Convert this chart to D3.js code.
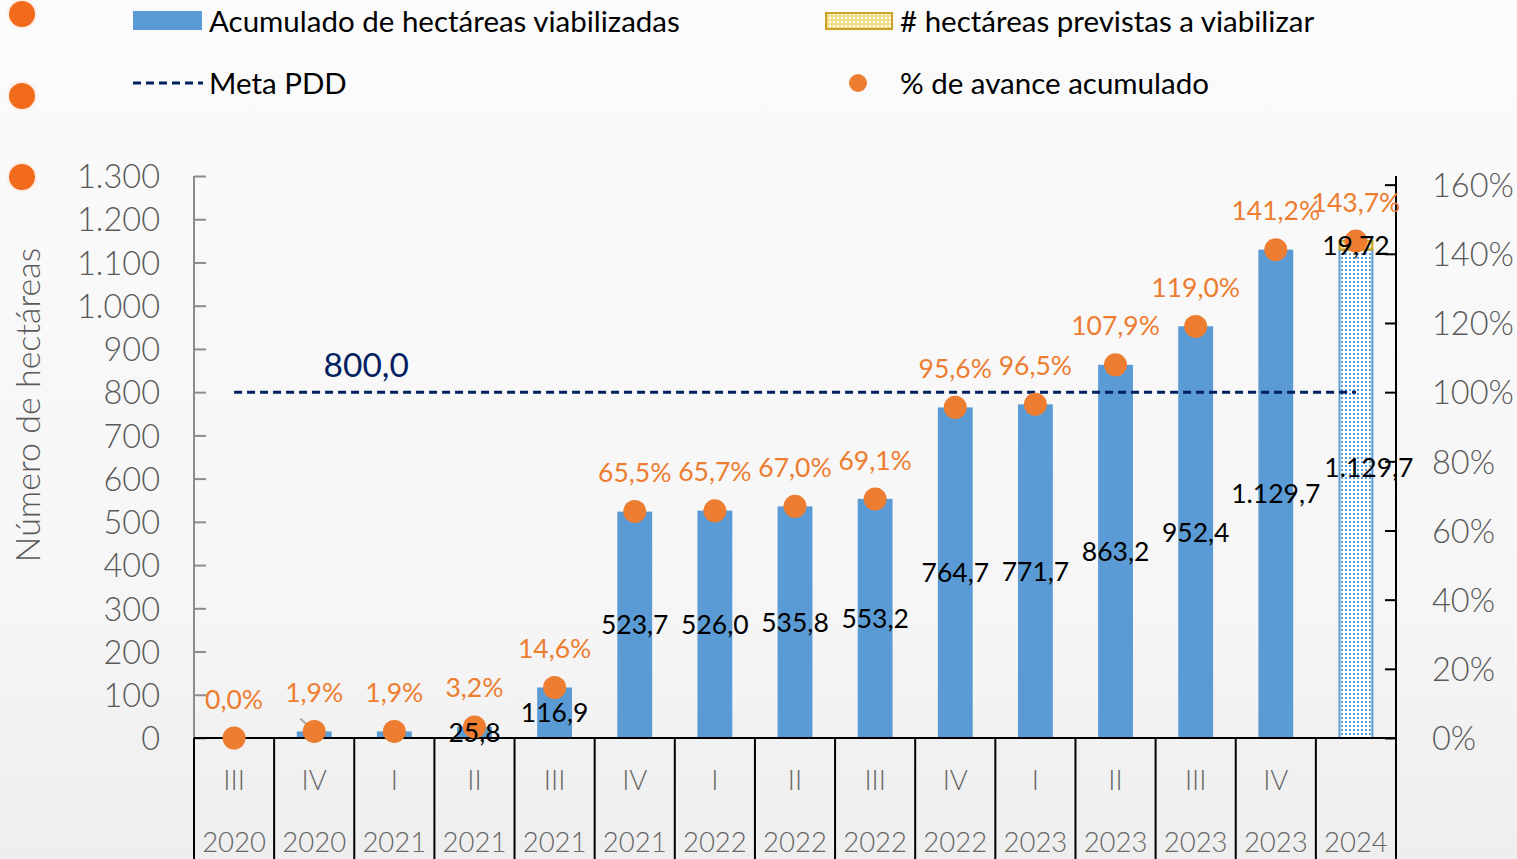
<!DOCTYPE html>
<html>
<head>
<meta charset="utf-8">
<script src="https://cdn.jsdelivr.net/npm/d3@7"></script>
<style>
  html, body { margin: 0; padding: 0; background: #f8f8f8; }
  svg { display: block; }
  text { font-family: Lato, "Open Sans", sans-serif; }
</style>
</head>
<body>
<svg id="chart" width="1517" height="859"></svg>
<script>
// ---- data ----
const quarters = ["III","IV","I","II","III","IV","I","II","III","IV","I","II","III","IV",""];
const years = ["2020","2020","2021","2021","2021","2021","2022","2022","2022","2022","2023","2023","2023","2023","2024"];
const accumulated = [0, 15.2, 15.2, 25.8, 116.9, 523.7, 526.0, 535.8, 553.2, 764.7, 771.7, 863.2, 952.4, 1129.7, null];
const projectedBase = [null, null, null, null, null, null, null, null, null, null, null, null, null, null, 1129.7];
const projectedExtra = [null, null, null, null, null, null, null, null, null, null, null, null, null, null, 19.72];
const percent = [0.0, 1.9, 1.9, 3.2, 14.6, 65.5, 65.7, 67.0, 69.1, 95.6, 96.5, 107.9, 119.0, 141.2, 143.7];
const meta = 800;
const leftTicks = [0,100,200,300,400,500,600,700,800,900,1000,1100,1200,1300];
const rightTicks = [0,20,40,60,80,100,120,140,160];
const legendLabels = ["Acumulado de hectáreas viabilizadas", "# hectáreas previstas a viabilizar", "Meta PDD", "% de avance acumulado"];
const yAxisTitle = "Número de hectáreas";

// ---- setup ----
const loc = d3.formatLocale({decimal: ",", thousands: ".", grouping: [3], currency: ["", ""]});
const fmt1 = loc.format(",.1f");
const fmtInt = loc.format(",d");
const fmt2 = loc.format(",.2f");

const BLUE = "#5b9bd5", ORANGE = "#ed7d31", NAVY = "#002060", GOLD = "#c9a227";

const svg = d3.select("#chart");
const W = 1517, H = 859;
const plotL = 194, plotR = 1396, plotT = 176, plotB = 738;

const defs = svg.append("defs");
const bg = defs.append("linearGradient").attr("id","bg").attr("x1",0).attr("x2",0).attr("y1",0).attr("y2",1);
bg.append("stop").attr("offset","0%").attr("stop-color","#fbfbfb");
bg.append("stop").attr("offset","70%").attr("stop-color","#f6f6f6");
bg.append("stop").attr("offset","100%").attr("stop-color","#eeeeee");
svg.append("rect").attr("width",W).attr("height",H).attr("fill","url(#bg)");

const pBlue = defs.append("pattern").attr("id","dotsBlue").attr("patternUnits","userSpaceOnUse").attr("width",4).attr("height",4);
pBlue.append("rect").attr("width",4).attr("height",4).attr("fill","#ffffff");
pBlue.append("rect").attr("x",1).attr("y",1).attr("width",2).attr("height",2).attr("fill",BLUE);
const pGold = defs.append("pattern").attr("id","dotsGold").attr("patternUnits","userSpaceOnUse").attr("width",4).attr("height",4);
pGold.append("rect").attr("width",4).attr("height",4).attr("fill","#f3dc8a");
pGold.append("rect").attr("x",1).attr("y",1).attr("width",2).attr("height",2).attr("fill","#ffffff");

// decorative circles at left edge
[14, 96, 177].forEach(cy => {
  svg.append("circle").attr("cx",22).attr("cy",cy).attr("r",15).attr("fill","#fde6d6").attr("opacity",0.6);
  svg.append("circle").attr("cx",22).attr("cy",cy).attr("r",13).attr("fill","#f26b1d");
});

const idx = d3.range(quarters.length);
const xCat = d3.scaleBand().domain(idx).range([plotL, plotR]).padding(0);
const xBar = d3.scaleBand().domain(idx).range([plotL, plotR]).paddingInner(0.565).paddingOuter(0.2825);
const yL = d3.scaleLinear().domain([0, 1300]).range([plotB, plotT]);
const yR = d3.scaleLinear().domain([0, 1300 / meta * 100]).range([plotB, plotT]);
const cx = i => xCat(i) + xCat.bandwidth() / 2;

// ---- left axis ----
const gL = svg.append("g").attr("transform", `translate(${plotL},0)`)
  .call(d3.axisRight(yL).tickValues(leftTicks).tickSize(12).tickFormat(d => fmtInt(d)));
gL.select(".domain").attr("stroke","#8c8c8c").attr("stroke-width",2).attr("d", `M0,${plotT}V${plotB}`);
gL.selectAll(".tick line").attr("stroke","#8c8c8c").attr("stroke-width",2);
gL.selectAll(".tick text").attr("x",-34).attr("text-anchor","end").attr("fill","#595959")
  .style("font-size","32.5px").style("font-weight",300).attr("dy","0.36em");

// ---- right axis ----
const gR = svg.append("g").attr("transform", `translate(${plotR},0)`)
  .call(d3.axisLeft(yR).tickValues(rightTicks).tickSize(11).tickFormat(d => d + "%"));
gR.select(".domain").attr("stroke","#000").attr("stroke-width",2).attr("d", `M0,${plotT}V${plotB}`);
gR.selectAll(".tick line").attr("stroke","#000").attr("stroke-width",2);
gR.selectAll(".tick text").attr("x",36).attr("text-anchor","start").attr("fill","#595959")
  .style("font-size","32.5px").style("font-weight",300).attr("dy","0.36em");

// y title
svg.append("text").attr("transform", `translate(40,405) rotate(-90)`)
  .attr("text-anchor","middle").attr("fill","#595959").style("font-size","34px").style("font-weight",300)
  .text(yAxisTitle);

// ---- bars ----
svg.append("g").selectAll("rect").data(idx.filter(i => accumulated[i] !== null)).join("rect")
  .attr("x", i => xBar(i)).attr("width", xBar.bandwidth())
  .attr("y", i => yL(accumulated[i])).attr("height", i => yL(0) - yL(accumulated[i]))
  .attr("fill", BLUE);

// projected bar (2024)
const projIdx = idx.filter(i => projectedBase[i] !== null);
svg.append("g").selectAll("rect").data(projIdx).join("rect")
  .attr("x", i => xBar(i) + 1).attr("width", xBar.bandwidth() - 2)
  .attr("y", i => yL(projectedBase[i])).attr("height", i => yL(0) - yL(projectedBase[i]))
  .attr("fill", "url(#dotsBlue)").attr("stroke", BLUE).attr("stroke-width", 2);
svg.append("g").selectAll("rect").data(projIdx).join("rect")
  .attr("x", i => xBar(i) + 1).attr("width", xBar.bandwidth() - 2)
  .attr("y", i => yL(projectedBase[i] + projectedExtra[i])).attr("height", i => yL(projectedBase[i]) - yL(projectedBase[i] + projectedExtra[i]))
  .attr("fill", "url(#dotsGold)").attr("stroke", GOLD).attr("stroke-width", 2);

// ---- x axis (table style) ----
const gx = svg.append("g");
gx.append("line").attr("x1", plotL).attr("x2", plotR).attr("y1", plotB).attr("y2", plotB).attr("stroke","#000").attr("stroke-width",2);
gx.selectAll("line.sep").data(d3.range(quarters.length + 1)).join("line").attr("class","sep")
  .attr("x1", i => i < quarters.length ? xCat(i) : plotR).attr("x2", i => i < quarters.length ? xCat(i) : plotR)
  .attr("y1", plotB).attr("y2", H).attr("stroke","#000").attr("stroke-width",2);
gx.selectAll("text.q").data(idx).join("text").attr("class","q")
  .attr("x", cx).attr("y", 790).attr("text-anchor","middle").attr("fill","#666")
  .style("font-size","27.5px").style("font-weight",300).text(i => quarters[i]);
gx.selectAll("text.yr").data(idx).join("text").attr("class","yr")
  .attr("x", cx).attr("y", 852).attr("text-anchor","middle").attr("fill","#666")
  .style("font-size","27.5px").style("font-weight",300).text(i => years[i]);

// ---- meta line ----
svg.append("line").attr("x1", cx(0)).attr("x2", cx(quarters.length - 1))
  .attr("y1", yL(meta)).attr("y2", yL(meta))
  .attr("stroke", NAVY).attr("stroke-width", 3).attr("stroke-dasharray", "8,5");
svg.append("text").attr("x", cx(1) + 52).attr("y", yL(meta) - 15).attr("text-anchor","middle")
  .attr("fill", NAVY).style("font-size","33.5px").text(fmt1(meta));

// leader line for IV 2020
svg.append("line").attr("x1", cx(1) - 14).attr("y1", yR(percent[1]) - 13).attr("x2", cx(1)).attr("y2", yR(percent[1]))
  .attr("stroke", "#a6a6a6").attr("stroke-width", 2);

// ---- percent points ----
svg.append("g").selectAll("circle").data(idx).join("circle")
  .attr("cx", cx).attr("cy", i => yR(percent[i])).attr("r", 11.5).attr("fill", ORANGE);
svg.append("g").selectAll("text").data(idx).join("text")
  .attr("x", cx).attr("y", i => yR(percent[i]) - 39).attr("dy","0.36em")
  .attr("text-anchor","middle").attr("fill", ORANGE).style("font-size","26.5px")
  .text(i => fmt1(percent[i]) + "%");

// ---- bar value labels (drawn above the points) ----
svg.append("g").selectAll("text").data(idx.filter(i => accumulated[i] !== null && accumulated[i] > 20)).join("text")
  .attr("x", cx).attr("y", i => (yL(0) + yL(accumulated[i])) / 2).attr("dy","0.36em")
  .attr("text-anchor","middle").attr("fill","#000").style("font-size","26.5px")
  .text(i => fmt1(accumulated[i]));
svg.append("g").selectAll("text").data(projIdx).join("text")
  .attr("x", i => cx(i) + 13).attr("y", i => (yL(0) + yL(projectedBase[i])) / 2 - 26).attr("dy","0.36em")
  .attr("text-anchor","middle").attr("fill","#000").style("font-size","26.5px")
  .text(i => fmt1(projectedBase[i]));
svg.append("g").selectAll("text").data(projIdx).join("text")
  .attr("x", cx).attr("y", i => yL(projectedBase[i] + projectedExtra[i] / 2)).attr("dy","0.36em")
  .attr("text-anchor","middle").attr("fill","#000").style("font-size","26.5px")
  .text(i => fmt2(projectedExtra[i]));

// ---- legend ----
const lg = svg.append("g");
const legFont = "29.5px";
lg.append("rect").attr("x",133).attr("y",11).attr("width",69).attr("height",19).attr("fill",BLUE);
lg.append("text").attr("x",209).attr("y",21).attr("dy","0.36em").attr("fill","#000").style("font-size",legFont).text(legendLabels[0]);
lg.append("rect").attr("x",826).attr("y",13).attr("width",66).attr("height",16).attr("fill","url(#dotsGold)").attr("stroke",GOLD).attr("stroke-width",2);
lg.append("text").attr("x",900).attr("y",21).attr("dy","0.36em").attr("fill","#000").style("font-size",legFont).text(legendLabels[1]);
lg.append("line").attr("x1",133).attr("x2",203).attr("y1",83).attr("y2",83).attr("stroke",NAVY).attr("stroke-width",3).attr("stroke-dasharray","8,5");
lg.append("text").attr("x",209).attr("y",83).attr("dy","0.36em").attr("fill","#000").style("font-size",legFont).text(legendLabels[2]);
lg.append("circle").attr("cx",858).attr("cy",83).attr("r",9).attr("fill",ORANGE);
lg.append("text").attr("x",900).attr("y",83).attr("dy","0.36em").attr("fill","#000").style("font-size",legFont).text(legendLabels[3]);
</script>
</body>
</html>
